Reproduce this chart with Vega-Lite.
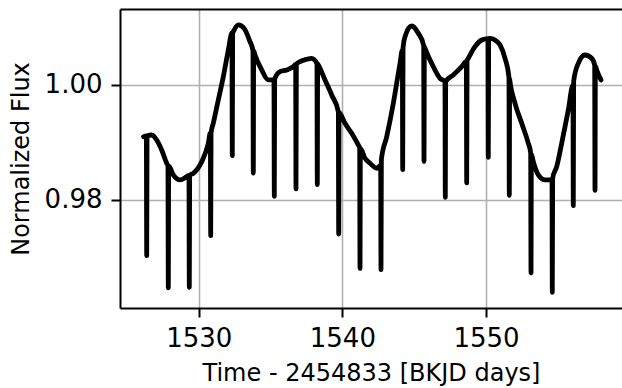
{
  "$schema": "https://vega.github.io/schema/vega-lite/v6.json",
  "width": 502,
  "height": 299,
  "autosize": {"type": "none"},
  "padding": {"left": 120, "top": 9, "right": 0, "bottom": 80},
  "background": "white",
  "config": {"view": {"stroke": null}, "font": "DejaVu Sans"},
  "data": {
    "values": [
      {"t": 1526.164, "f": 0.99098},
      {"t": 1526.355, "f": 0.99110},
      {"t": 1526.380, "f": 0.97034},
      {"t": 1526.405, "f": 0.99110},
      {"t": 1526.728, "f": 0.99127},
      {"t": 1527.076, "f": 0.99041},
      {"t": 1527.424, "f": 0.98867},
      {"t": 1527.772, "f": 0.98637},
      {"t": 1527.859, "f": 0.98590},
      {"t": 1527.884, "f": 0.96474},
      {"t": 1527.909, "f": 0.98590},
      {"t": 1528.232, "f": 0.98434},
      {"t": 1528.698, "f": 0.98347},
      {"t": 1529.165, "f": 0.98404},
      {"t": 1529.321, "f": 0.98425},
      {"t": 1529.346, "f": 0.96486},
      {"t": 1529.371, "f": 0.98425},
      {"t": 1529.624, "f": 0.98463},
      {"t": 1530.209, "f": 0.98664},
      {"t": 1530.668, "f": 0.98984},
      {"t": 1530.810, "f": 0.99162},
      {"t": 1530.835, "f": 0.97381},
      {"t": 1530.860, "f": 0.99162},
      {"t": 1531.016, "f": 0.99330},
      {"t": 1531.364, "f": 0.99735},
      {"t": 1531.712, "f": 1.00139},
      {"t": 1532.061, "f": 1.00602},
      {"t": 1532.314, "f": 1.00897},
      {"t": 1532.339, "f": 0.98768},
      {"t": 1532.364, "f": 1.00897},
      {"t": 1532.409, "f": 1.00919},
      {"t": 1532.757, "f": 1.01036},
      {"t": 1533.154, "f": 1.00978},
      {"t": 1533.571, "f": 1.00746},
      {"t": 1533.776, "f": 1.00593},
      {"t": 1533.801, "f": 0.98468},
      {"t": 1533.826, "f": 1.00585},
      {"t": 1533.919, "f": 1.00515},
      {"t": 1534.386, "f": 1.00255},
      {"t": 1534.845, "f": 1.00082},
      {"t": 1535.193, "f": 1.00082},
      {"t": 1535.238, "f": 1.00090},
      {"t": 1535.263, "f": 0.98064},
      {"t": 1535.288, "f": 1.00099},
      {"t": 1535.660, "f": 1.00226},
      {"t": 1536.126, "f": 1.00255},
      {"t": 1536.585, "f": 1.00312},
      {"t": 1536.748, "f": 1.00350},
      {"t": 1536.773, "f": 0.98191},
      {"t": 1536.798, "f": 1.00355},
      {"t": 1537.052, "f": 1.00399},
      {"t": 1537.518, "f": 1.00441},
      {"t": 1537.866, "f": 1.00458},
      {"t": 1538.231, "f": 1.00368},
      {"t": 1538.256, "f": 0.98265},
      {"t": 1538.281, "f": 1.00360},
      {"t": 1538.326, "f": 1.00342},
      {"t": 1538.792, "f": 1.00082},
      {"t": 1539.259, "f": 0.99821},
      {"t": 1539.721, "f": 0.99530},
      {"t": 1539.746, "f": 0.97410},
      {"t": 1539.771, "f": 0.99520},
      {"t": 1540.184, "f": 0.99330},
      {"t": 1540.651, "f": 0.99157},
      {"t": 1541.110, "f": 0.98954},
      {"t": 1541.204, "f": 0.98910},
      {"t": 1541.229, "f": 0.96812},
      {"t": 1541.254, "f": 0.98895},
      {"t": 1541.577, "f": 0.98723},
      {"t": 1541.925, "f": 0.98637},
      {"t": 1542.391, "f": 0.98550},
      {"t": 1542.666, "f": 0.98600},
      {"t": 1542.691, "f": 0.96791},
      {"t": 1542.716, "f": 0.98700},
      {"t": 1543.087, "f": 0.99098},
      {"t": 1543.547, "f": 0.99677},
      {"t": 1544.013, "f": 1.00371},
      {"t": 1544.176, "f": 1.00600},
      {"t": 1544.201, "f": 0.98526},
      {"t": 1544.226, "f": 1.00640},
      {"t": 1544.361, "f": 1.00833},
      {"t": 1544.828, "f": 1.01018},
      {"t": 1545.287, "f": 1.00892},
      {"t": 1545.659, "f": 1.00680},
      {"t": 1545.684, "f": 0.98671},
      {"t": 1545.709, "f": 1.00660},
      {"t": 1545.753, "f": 1.00631},
      {"t": 1546.331, "f": 1.00312},
      {"t": 1546.798, "f": 1.00111},
      {"t": 1547.142, "f": 1.00056},
      {"t": 1547.167, "f": 0.98047},
      {"t": 1547.192, "f": 1.00056},
      {"t": 1547.724, "f": 1.00168},
      {"t": 1548.308, "f": 1.00312},
      {"t": 1548.631, "f": 1.00405},
      {"t": 1548.656, "f": 0.98295},
      {"t": 1548.681, "f": 1.00420},
      {"t": 1548.768, "f": 1.00458},
      {"t": 1549.234, "f": 1.00659},
      {"t": 1549.701, "f": 1.00775},
      {"t": 1550.135, "f": 1.00800},
      {"t": 1550.160, "f": 0.98741},
      {"t": 1550.185, "f": 1.00802},
      {"t": 1550.279, "f": 1.00805},
      {"t": 1550.627, "f": 1.00775},
      {"t": 1550.975, "f": 1.00689},
      {"t": 1551.323, "f": 1.00458},
      {"t": 1551.597, "f": 1.00130},
      {"t": 1551.622, "f": 0.98082},
      {"t": 1551.647, "f": 1.00100},
      {"t": 1551.671, "f": 1.00052},
      {"t": 1552.019, "f": 0.99677},
      {"t": 1552.485, "f": 0.99330},
      {"t": 1552.945, "f": 0.98984},
      {"t": 1553.108, "f": 0.98820},
      {"t": 1553.133, "f": 0.96734},
      {"t": 1553.158, "f": 0.98795},
      {"t": 1553.293, "f": 0.98664},
      {"t": 1553.641, "f": 0.98434},
      {"t": 1554.107, "f": 0.98347},
      {"t": 1554.574, "f": 0.98347},
      {"t": 1554.595, "f": 0.98350},
      {"t": 1554.615, "f": 0.96399},
      {"t": 1554.640, "f": 0.98380},
      {"t": 1554.922, "f": 0.98578},
      {"t": 1555.270, "f": 0.98984},
      {"t": 1555.729, "f": 0.99561},
      {"t": 1556.052, "f": 0.99990},
      {"t": 1556.077, "f": 0.97901},
      {"t": 1556.102, "f": 1.00060},
      {"t": 1556.425, "f": 1.00371},
      {"t": 1556.892, "f": 1.00515},
      {"t": 1557.358, "f": 1.00458},
      {"t": 1557.563, "f": 1.00340},
      {"t": 1557.588, "f": 0.98168},
      {"t": 1557.613, "f": 1.00320},
      {"t": 1557.706, "f": 1.00255},
      {"t": 1558.006, "f": 1.00082}
    ]
  },
  "layer": [
    {
      "mark": {"type": "line", "color": "black", "strokeWidth": 4.8, "interpolate": "monotone", "strokeJoin": "round", "strokeCap": "round", "clip": true},
      "encoding": {
        "x": {
          "field": "t",
          "type": "quantitative",
          "sort": null,
          "scale": {"domain": [1524.521, 1559.467], "nice": false, "zero": false},
          "axis": {
            "orient": "bottom",
            "values": [1530, 1540, 1550],
            "format": "d",
            "title": "Time - 2454833 [BKJD days]",
            "domainColor": "black", "domainWidth": 2,
            "tickColor": "black", "tickWidth": 2, "tickSize": 9,
            "labelFont": "DejaVu Sans", "labelFontSize": 26, "labelColor": "black", "labelPadding": 8, "labelFlush": false,
            "titleFont": "DejaVu Sans", "titleFontSize": 24, "titleFontWeight": "normal", "titleColor": "black", "titlePadding": 10,
            "grid": true, "gridColor": "#b0b0b0", "gridWidth": 1.6
          }
        },
        "y": {
          "field": "f",
          "type": "quantitative",
          "scale": {"domain": [0.96126, 1.01313], "nice": false, "zero": false},
          "axis": {
            "values": [0.98, 1.0],
            "format": ".2f",
            "title": "Normalized Flux",
            "domainColor": "black", "domainWidth": 2,
            "tickColor": "black", "tickWidth": 2, "tickSize": 9,
            "labelFont": "DejaVu Sans", "labelFontSize": 26, "labelColor": "black", "labelPadding": 9,
            "titleFont": "DejaVu Sans", "titleFontSize": 24, "titleFontWeight": "normal", "titleColor": "black", "titlePadding": 11,
            "grid": true, "gridColor": "#b0b0b0", "gridWidth": 1.6
          }
        }
      }
    },
    {
      "mark": {"type": "point", "opacity": 0},
      "encoding": {
        "x": {
          "field": "t",
          "type": "quantitative",
          "scale": {"domain": [1524.521, 1559.467], "nice": false, "zero": false},
          "axis": {"orient": "top", "labels": false, "ticks": false, "grid": false, "title": null, "domainColor": "black", "domainWidth": 2}
        }
      }
    }
  ],
  "resolve": {"axis": {"x": "independent"}}
}
